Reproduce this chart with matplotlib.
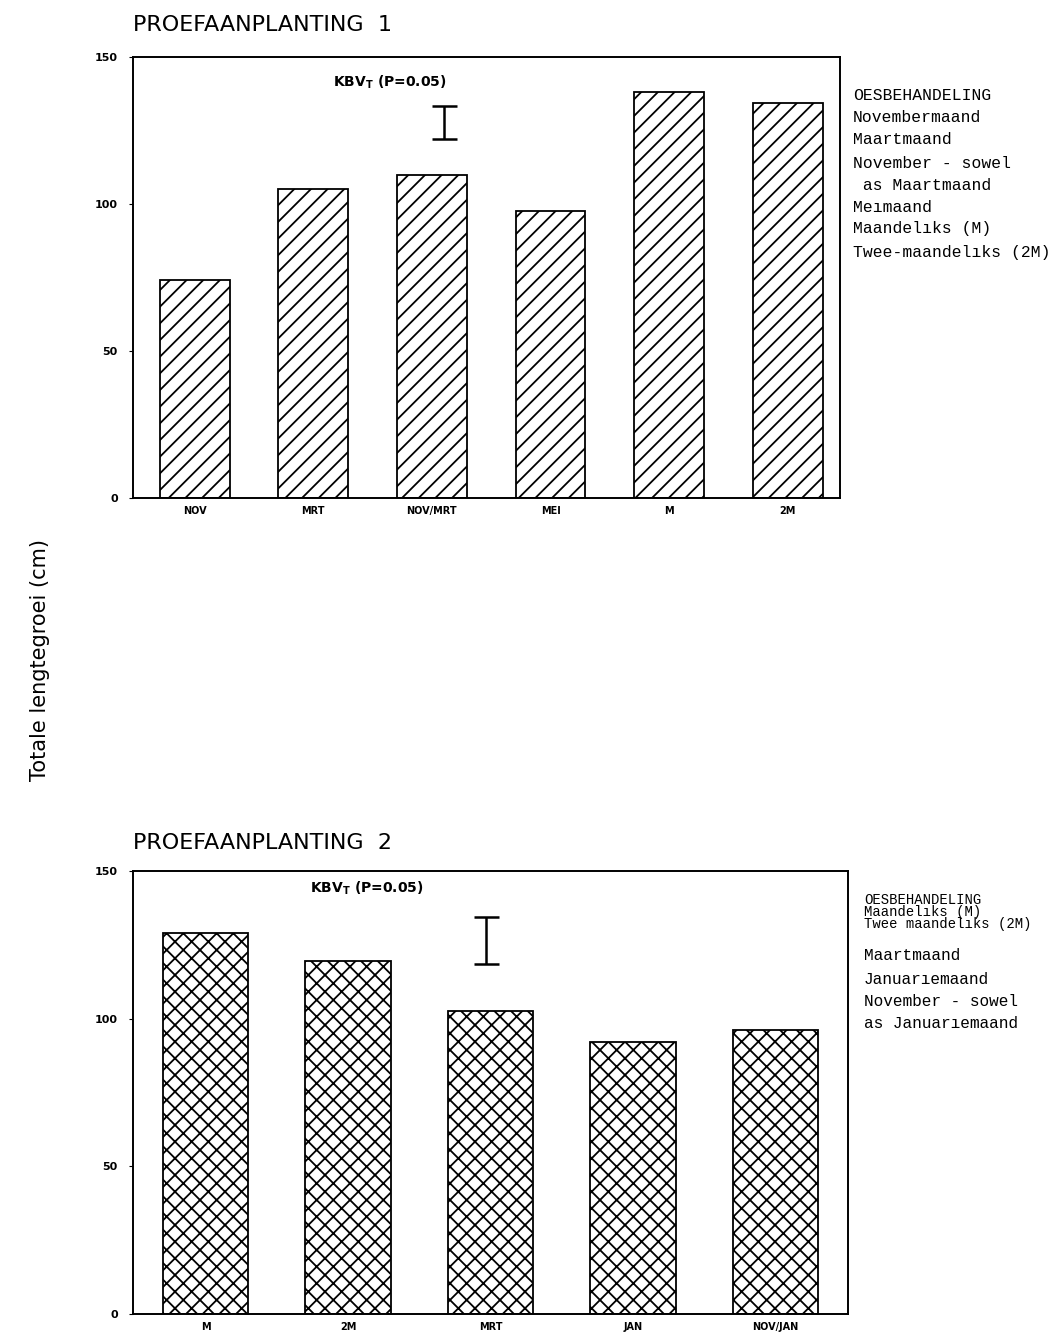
"""Totale lengtegroei per snoeibehandeling, twee proefaanplantings."""
import matplotlib.pyplot as plt
import numpy as np

# proefaanplanting 1
labels_1 = ["NOV", "MRT", "NOV/MRT", "MEI", "M", "2M"]
growth_1 = [74, 105, 110, 97.5, 138, 134.5]
kbv_1 = (122, 133.5)  # lower / upper end of the KBV bar
legend_1 = [
    "OESBEHANDELING",
    "Novembermaand",
    "Maartmaand",
    "November - sowel",
    " as Maartmaand",
    "Me\u0131maand",
    "Maandel\u0131ks (M)",
    "Twee-maandel\u0131ks (2M)",
]

# proefaanplanting 2
labels_2 = ["M", "2M", "MRT", "JAN", "NOV/JAN"]
growth_2 = [129, 119.5, 102.5, 92, 96]
kbv_2 = (118.5, 134.5)
legend_2 = [
    "OESBEHANDELING",
    "Maandel\u0131ks (M)",
    "Twee maandel\u0131ks (2M)",
    "Maartmaand",
    "Januar\u0131emaand",
    "November - sowel",
    "as Januar\u0131emaand",
]

plt.rcParams["hatch.linewidth"] = 1.3
fig = plt.figure(figsize=(10.62, 13.32), dpi=100)


def panel(rect, labels, values, hatch, width, kbv_x, kbv, text_xy, xlim):
    ax = fig.add_axes(rect)
    x = np.arange(len(labels))
    ax.bar(x, values, width=width, color="white", edgecolor="black",
           hatch=hatch, linewidth=1.3)
    ax.set_xlim(*xlim)
    ax.set_ylim(0, 150)
    ax.set_yticks([0, 50, 100, 150])
    ax.set_xticks(x)
    ax.set_xticklabels(labels, fontsize=7, fontweight="bold")
    ax.tick_params(axis="x", length=0, pad=6)
    ax.tick_params(axis="y", length=3, direction="out", labelsize=8, pad=8)
    for lab in ax.get_yticklabels():
        lab.set_fontweight("bold")
    for sp in ax.spines.values():
        sp.set_linewidth(1.4)
    # KBV bar
    mid = np.mean(kbv)
    ax.errorbar([kbv_x], [mid], yerr=[[mid - kbv[0]], [kbv[1] - mid]],
                fmt="none", ecolor="black", elinewidth=1.8, capsize=9, capthick=1.8)
    ax.text(text_xy[0], text_xy[1], r"KBV$_{\mathbf{T}}$ (P=0.05)",
            fontsize=10, fontweight="bold", va="center", ha="left")
    return ax


panel([0.1252, 0.6261, 0.6657, 0.3311], labels_1, growth_1, "//", 0.59,
      2.10, kbv_1, (1.17, 141.5), (-0.52, 5.44))
panel([0.1252, 0.0135, 0.6733, 0.3326], labels_2, growth_2, "xx", 0.6,
      1.97, kbv_2, (0.73, 144.3), (-0.51, 4.51))

# titles
fig.text(133 / 1062, 1 - 25 / 1332, "PROEFAANPLANTING  1", fontsize=16,
         va="center", ha="left")
fig.text(133 / 1062, 1 - 843 / 1332, "PROEFAANPLANTING  2", fontsize=16,
         va="center", ha="left")
fig.text(40 / 1062, 1 - 660 / 1332, "Totale lengtegroei (cm)", fontsize=15,
         rotation=90, va="center", ha="center")

# legend texts
ys_1 = [95, 117, 139, 163, 185, 207, 229, 252]
for y, t in zip(ys_1, legend_1):
    fig.text(853 / 1062, 1 - y / 1332, t, fontsize=11.8,
             family="Liberation Mono", va="center", ha="left")
ys_2 = [900, 912, 924, 955, 980, 1002, 1023]
sizes_2 = [10, 10, 10, 11.6, 11.6, 11.6, 11.6]
for y, t, s in zip(ys_2, legend_2, sizes_2):
    fig.text(864 / 1062, 1 - y / 1332, t, fontsize=s,
             family="Liberation Mono", va="center", ha="left")

plt.savefig("out.png", dpi=100)
